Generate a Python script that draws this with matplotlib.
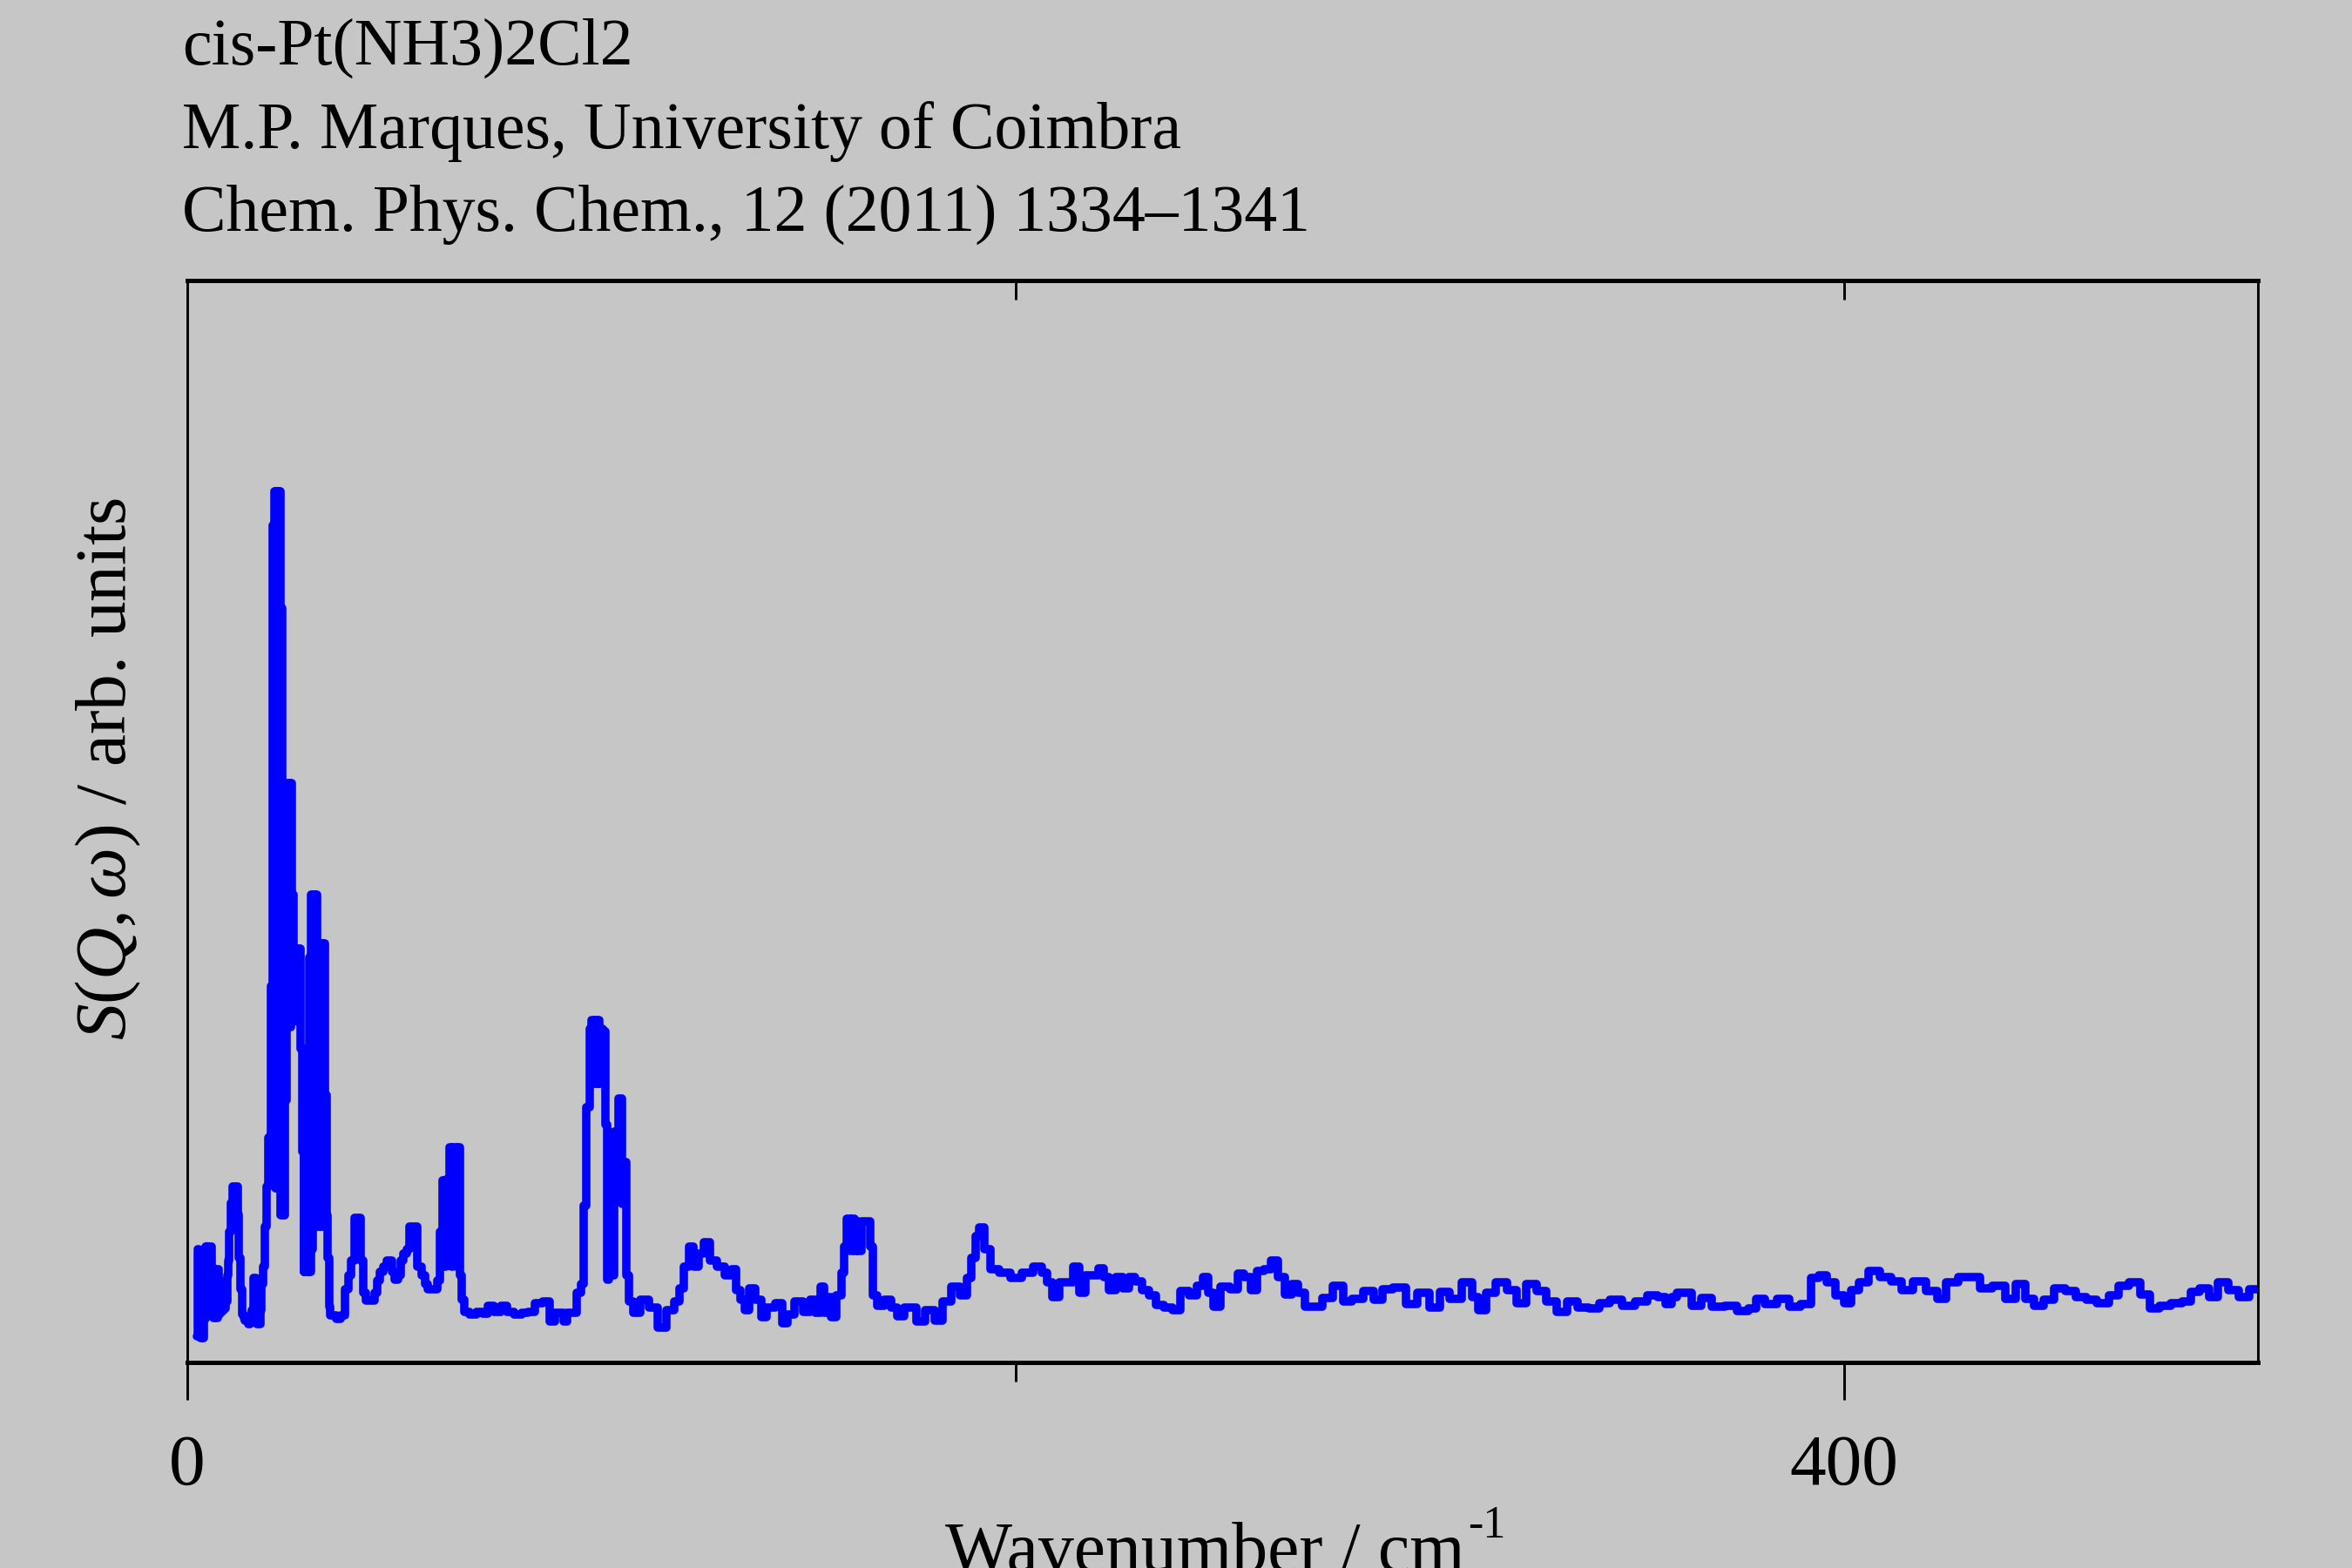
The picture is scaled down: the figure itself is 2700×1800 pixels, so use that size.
import matplotlib
matplotlib.use("Agg")
import matplotlib.pyplot as plt
from matplotlib.ticker import FixedLocator, NullFormatter

plt.rcParams['font.family'] = ['Liberation Serif', 'DejaVu Serif']
plt.rcParams['mathtext.fontset'] = 'custom'
plt.rcParams['mathtext.rm'] = 'Liberation Serif'
plt.rcParams['mathtext.it'] = 'Liberation Serif:italic'

title_lines = ['cis-Pt(NH3)2Cl2',
               'M.P. Marques, University of Coimbra',
               'Chem. Phys. Chem., 12 (2011) 1334\u20131341']

# wavenumber (cm-1) and intensity (arb.)
wn = [2.4, 2.6, 2.8, 3.0, 3.2, 3.4, 3.6, 3.8, 4.0, 4.2, 4.4, 4.6, 4.8, 5.0, 5.2, 5.4,
      5.6, 5.8, 6.0, 6.2, 6.4, 6.6, 6.8, 7.0, 7.2, 7.4, 7.6, 7.8, 8.0, 8.2, 8.4, 8.6,
      8.8, 9.0, 9.2, 9.4, 9.6, 9.8,
      10.0, 10.4, 10.8, 11.2, 11.6, 12.0, 12.3, 12.6, 13.0, 13.4, 13.8, 14.2, 14.6,
      15.0, 15.4, 15.8, 16.1, 16.4, 16.7, 17.0, 17.4, 17.8, 18.2, 18.6, 19.0, 19.4,
      19.8, 20.1,
      20.4, 20.6, 20.8, 21.0, 21.2, 21.4, 21.6, 21.8, 22.0, 22.2, 22.4, 22.6, 22.8,
      23.0, 23.2, 23.4, 23.6, 23.8, 24.0, 24.2, 24.4, 24.6, 24.8, 25.0, 25.2, 25.4,
      25.6, 25.8, 26.0, 26.2, 26.4, 26.6, 26.8, 27.0, 27.2, 27.4, 27.6, 27.8, 28.0,
      28.2, 28.4, 28.6, 28.8, 29.0, 29.2, 29.4, 29.6, 29.8, 30.0, 30.2, 30.4, 30.6,
      30.8, 31.0, 31.2, 31.4, 31.6, 31.8, 32.0, 32.2, 32.4, 32.6, 32.8, 33.0, 33.2,
      33.4, 33.6, 33.8, 34.0, 34.4,
      34.8, 35.5, 36.5, 37.5, 38.5, 39.3, 40.0, 40.6, 41.2, 41.7, 42.1, 42.8, 43.5,
      44.3, 45.0, 45.6, 46.2, 47.0, 47.8, 48.5, 49.2, 49.8, 50.5, 51.2, 51.9, 52.6,
      53.3, 54.0, 54.7, 55.3, 56.0, 57.0, 57.8, 58.5, 59.3, 60.0, 60.7, 61.3, 61.8,
      62.3, 62.8, 63.2, 63.6, 64.0, 64.4, 64.8, 65.2, 65.6, 66.0, 66.5,
      67.5, 69.0, 70.5, 72.0, 73.3, 75.0, 76.5, 78.0, 80.0, 81.5, 83.0, 85.0, 86.6,
      88.4, 89.3, 90.3, 91.3, 92.2, 93.5, 94.5, 95.5, 96.0, 96.5, 97.0, 97.4, 97.8,
      98.2, 98.6, 99.0, 99.4, 99.8, 100.2, 100.7, 101.1, 101.6, 102.0, 102.4, 102.8,
      103.3, 103.8, 104.3, 104.8, 105.3, 105.8, 106.3, 107.2, 108.2, 110.5, 112.4,
      114.7, 116.6, 118.5, 119.4, 120.4, 121.8, 122.7, 124.1, 125.5, 126.9, 128.8,
      130.7, 132.1, 133.0, 134.0, 135.2, 136.3, 138.2, 138.9, 141.0, 143.0, 144.3,
      145.7, 147.6, 150.0, 150.9, 152.6, 153.4, 154.2, 155.1, 156.0, 157.5, 158.4,
      158.9, 159.8, 160.3, 160.8, 161.3, 161.7, 162.4, 163.1, 164.5, 165.4, 165.9,
      167.3, 169.2, 170.6, 172.5, 173.9, 175.3, 176.7, 179.5, 181.4, 183.3, 185.6,
      187.5, 188.9, 189.9, 190.8, 191.7, 193.2, 194.6, 197.4, 200.2, 203.0, 205.4,
      207.2, 208.2, 209.6, 211.5, 213.3, 214.7, 216.2, 217.7, 219.6, 220.5, 221.9,
      223.3, 225.2, 226.6, 228.0, 229.9, 231.3, 233.2, 234.6, 237.0, 238.8, 240.7,
      243.0, 244.5, 245.9, 247.3, 248.5, 250.6, 252.9, 254.3, 256.2, 257.6, 259.0,
      260.9, 262.6, 264.2, 266.1, 267.5, 268.9, 270.8, 273.1, 275.0, 278.3, 280.1,
      282.5, 285.3, 287.7, 289.5, 292.8, 295.6, 298.5, 301.3, 303.6, 306.0, 309.3,
      311.1, 312.5, 314.9, 317.2, 320.1, 321.9, 324.7, 327.1, 329.4, 331.8, 334.6,
      337.0, 339.8, 342.1, 344.9, 348.2, 351.1, 353.9, 356.3, 357.6, 359.2, 360.4,
      362.1, 364.5, 366.5, 369.9, 372.8, 375.7, 378.1, 379.5, 382.4, 385.3, 388.2,
      391.1, 393.0, 395.0, 396.9, 399.0, 401.0, 402.7, 404.6, 407.5, 409.9, 412.8,
      415.3, 418.2, 421.5, 423.5, 425.9, 429.3, 431.7, 434.1, 437.5, 440.4, 442.8,
      444.7, 447.1, 449.6, 452.0, 454.9, 457.3, 459.7, 462.6, 465.5, 467.4, 470.3,
      472.7, 475.0, 477.6, 480.5, 482.9, 484.8, 487.2, 489.2, 491.6, 494.0, 496.9,
      498.8, 500.0]

sqw = [30, 130, 40, 125, 28, 105, 30, 100, 28, 110, 50, 133, 55, 133, 60, 130,
       55, 133, 60, 107, 51, 107, 55, 100, 51, 107, 55, 94, 58, 90, 58, 88,
       60, 80, 62, 85, 70, 100,
       117, 150, 183, 202, 202, 202, 170, 120, 84, 55, 51, 48, 51,
       44, 46, 60, 97, 97, 75, 44, 44, 60, 90, 110, 156, 202,
       258, 260,
       432, 258, 961, 258, 1000, 200, 1000, 200, 1000, 200, 1000, 169, 866,
       169, 603, 169, 603, 301, 603, 385, 665, 385, 665, 385, 665, 400,
       537, 412, 475, 412, 475, 400, 475, 390, 475, 360, 360, 242, 360,
       104, 360, 104, 360, 104, 360, 104, 465, 104, 537, 130, 537, 156,
       537, 156, 537, 156, 481, 156, 481, 156, 481, 156, 481, 156, 481,
       169, 307, 169, 120, 64,
       54, 54, 50, 54, 84, 100, 117, 166, 166, 166, 117, 80, 71,
       71, 71, 80, 94, 104, 110, 117, 117, 104, 95, 100, 117, 125,
       130, 156, 156, 156, 110, 100, 90, 84, 84, 84, 94, 150, 209,
       110, 210, 130, 247, 110, 247, 247, 110, 247, 100, 72,
       58, 55, 58, 56, 65, 58, 65, 58, 55, 57, 58, 68, 70,
       47, 57, 57, 47, 57, 57, 80, 90, 180, 293, 293, 383, 393,
       320, 393, 320, 393, 320, 383, 380, 273, 95, 100, 180, 100,
       265, 200, 303, 303, 182, 230, 100, 70, 57, 72, 63,
       40, 60, 70, 85, 110, 133, 110, 125, 138, 117, 110,
       100, 107, 83, 72, 60, 85, 72, 52, 63, 68, 45,
       55, 70, 58, 72, 57, 87, 57, 75, 52, 77, 103,
       133, 165, 128, 165, 128, 162, 128, 162, 162, 133, 77,
       65, 72, 63, 53, 63, 63, 47, 60, 48, 70, 87,
       77, 97, 120, 145, 155, 130, 107, 103, 97, 103, 110,
       103, 92, 75, 92, 92, 110, 80, 100, 100, 108, 98,
       83, 98, 85, 98, 93, 83, 77, 66, 63, 60, 82,
       77, 88, 98, 80, 64, 87, 84, 102, 98, 83, 105,
       107, 117, 98, 78, 90, 80, 64, 64, 74, 88, 70,
       73, 82, 72, 84, 86, 67, 80, 63, 81, 73, 92,
       75, 60, 80, 92, 83, 68, 90, 82, 70, 58, 70,
       63, 62, 68, 72, 65, 70, 77, 75, 67, 75, 80,
       80, 65, 74, 64, 65, 59, 62, 73, 67, 73, 64,
       67, 97, 100, 92, 77, 68, 83, 92, 105, 98, 93,
       83, 93, 82, 73, 92, 98, 98, 85, 88, 73, 90,
       73, 65, 72, 85, 82, 75, 72, 68, 77, 88, 92,
       78, 62, 65, 68, 70, 81, 85, 75, 92, 83, 75,
       84, 84]

fig = plt.figure(figsize=(9, 6), dpi=300)
fig.patch.set_facecolor('#c6c6c6')
ax = fig.add_axes([0.0796, 0.1311, 0.8804, 0.69])
ax.set_facecolor('#c6c6c6')

ax.plot(wn, sqw, color='#0000ff', lw=2.3, drawstyle='steps-mid',
        solid_joinstyle='round', solid_capstyle='round')

ax.set_xlim(0, 500)
ax.set_ylim(0, 1242)
ax.set_yticks([])

ax.xaxis.set_major_locator(FixedLocator([0, 400]))
ax.xaxis.set_minor_locator(FixedLocator([200]))
ax.tick_params(axis='x', which='major', direction='out', length=10.3, width=0.7,
               labelsize=20, pad=9.5)
ax.tick_params(axis='x', which='minor', direction='out', length=5.3, width=0.7)

top = ax.secondary_xaxis('top')
top.set_xticks([200, 400])
top.xaxis.set_major_formatter(NullFormatter())
top.tick_params(direction='in', length=5.3, width=0.7)
top.spines['top'].set_linewidth(1.2)

for side in ['top', 'bottom']:
    ax.spines[side].set_linewidth(1.2)
for side in ['left', 'right']:
    ax.spines[side].set_linewidth(0.7)

# header lines
for line, yb in zip(title_lines, [0.9589, 0.9056, 0.8528]):
    fig.text(0.0774, yb, line, fontsize=18.2, va='baseline')

# x label, with the "-1" set as a small raised text like the original
fig.text(0.4019, -0.002, 'Wavenumber / cm', fontsize=19.6, ha='left', va='baseline')
fig.text(0.6240, 0.0194, '-1', fontsize=12.5, ha='left', va='baseline')

fig.text(0.0459, 0.51, r'$S(Q,\omega)$ / arb. units', fontsize=20, rotation=90,
         ha='center', va='center')

fig.savefig('out.png', dpi=300, facecolor=fig.get_facecolor())
